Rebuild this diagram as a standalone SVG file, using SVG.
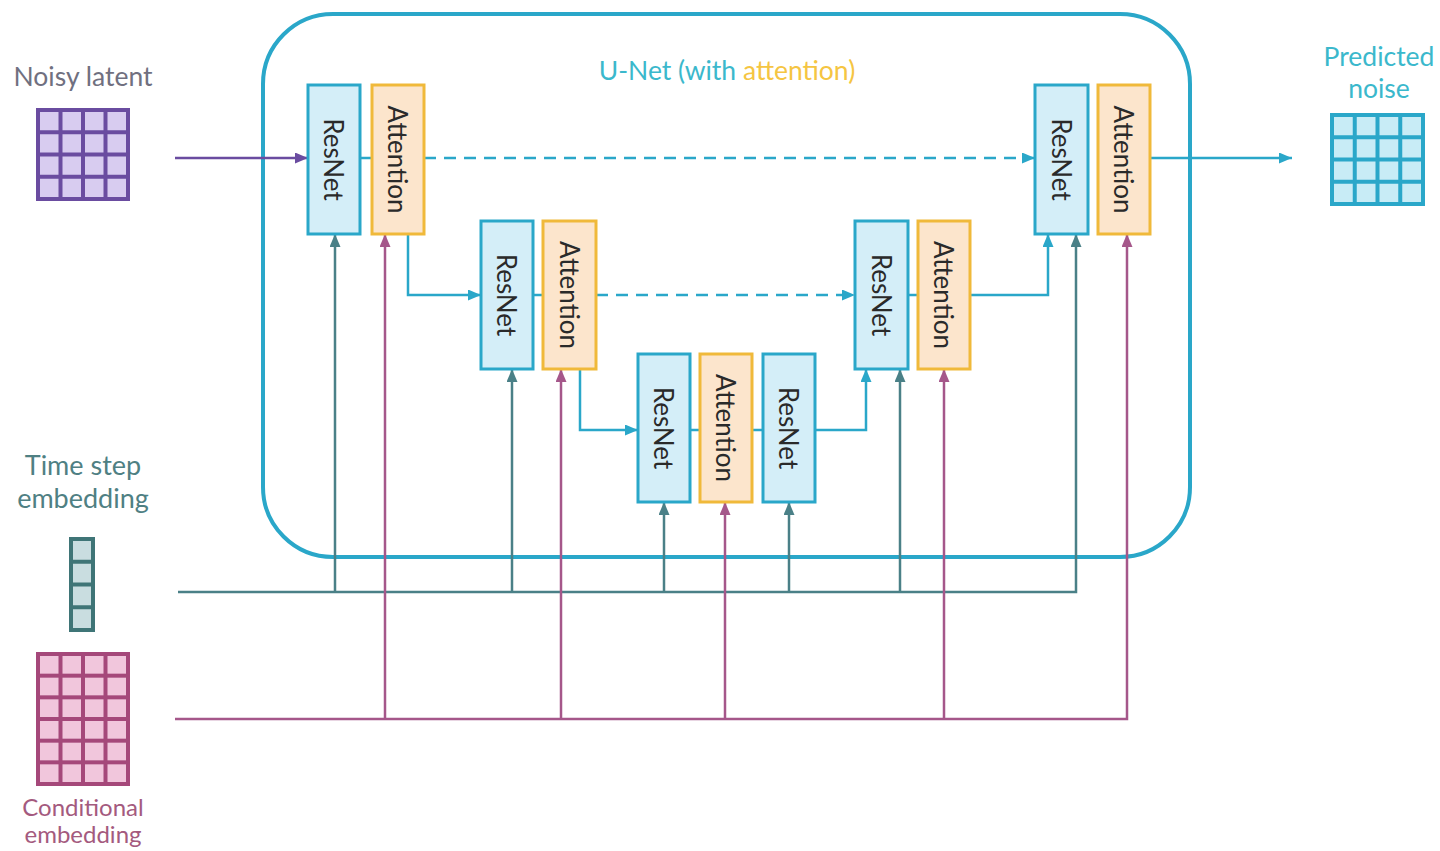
<svg xmlns="http://www.w3.org/2000/svg" width="1440" height="851" viewBox="0 0 1440 851">
<defs>
<style>
.lbl{font-family:Lato,"Open Sans","Liberation Sans",sans-serif;}
.box-r{fill:#D4EEF8;stroke:#2AA7C9;stroke-width:3;}
.box-a{fill:#FCE5CC;stroke:#F0B93A;stroke-width:3;}
.bt{font-family:Lato,"Open Sans","Liberation Sans",sans-serif;font-size:26px;fill:#2a2a2a;text-anchor:middle;dominant-baseline:central;}
.c{fill:none;stroke:#2AA7C9;stroke-width:2.5;}
.d{fill:none;stroke:#2AA7C9;stroke-width:2.5;stroke-dasharray:12 8;}
.t{fill:none;stroke:#4A8087;stroke-width:2.5;}
.m{fill:none;stroke:#A5578A;stroke-width:2.5;}
.p{fill:none;stroke:#6A4CA0;stroke-width:2.5;}
</style>
<marker id="ac" markerUnits="userSpaceOnUse" markerWidth="13" markerHeight="11" refX="13" refY="5.5" orient="auto"><path d="M0,0 L13,5.5 L0,11 z" fill="#2AA7C9"/></marker>
<marker id="at" markerUnits="userSpaceOnUse" markerWidth="13" markerHeight="11" refX="13" refY="5.5" orient="auto"><path d="M0,0 L13,5.5 L0,11 z" fill="#4A8087"/></marker>
<marker id="am" markerUnits="userSpaceOnUse" markerWidth="13" markerHeight="11" refX="13" refY="5.5" orient="auto"><path d="M0,0 L13,5.5 L0,11 z" fill="#A5578A"/></marker>
<marker id="ap" markerUnits="userSpaceOnUse" markerWidth="13" markerHeight="11" refX="13" refY="5.5" orient="auto"><path d="M0,0 L13,5.5 L0,11 z" fill="#6A4CA0"/></marker>
</defs>
<rect width="1440" height="851" fill="#ffffff"/>

<g id="unet">
<rect x="263" y="14" width="927" height="543" rx="70" ry="70" fill="none" stroke="#2AA7C9" stroke-width="4"/>
<text class="lbl" x="727" y="80" font-size="26.5" text-anchor="middle"><tspan fill="#3BB8CC">U-Net (with </tspan><tspan fill="#F5C542">attention)</tspan></text>
</g>

<g id="connectors">
<path class="p" d="M175 158 H308" marker-end="url(#ap)"/>
<path class="c" d="M360 158 H372"/>
<path class="d" d="M424 158 H1035" marker-end="url(#ac)"/>
<path class="c" d="M1150 158 H1292" marker-end="url(#ac)"/>
<path class="c" d="M408 234 V295 H481" marker-end="url(#ac)"/>
<path class="c" d="M533 295 H543"/>
<path class="d" d="M596 295 H855" marker-end="url(#ac)"/>
<path class="c" d="M908 295 H918"/>
<path class="c" d="M580 369 V430 H638" marker-end="url(#ac)"/>
<path class="c" d="M690 430 H700"/>
<path class="c" d="M752 430 H763"/>
<path class="c" d="M815 430 H866 V369" marker-end="url(#ac)"/>
<path class="c" d="M970 295 H1048 V234" marker-end="url(#ac)"/>

<path class="t" d="M178 592 H1076 V234" marker-end="url(#at)"/>
<path class="t" d="M335 592 V234" marker-end="url(#at)"/>
<path class="t" d="M512 592 V369" marker-end="url(#at)"/>
<path class="t" d="M664 592 V502" marker-end="url(#at)"/>
<path class="t" d="M789 592 V502" marker-end="url(#at)"/>
<path class="t" d="M900 592 V369" marker-end="url(#at)"/>

<path class="m" d="M175 719 H1127 V234" marker-end="url(#am)"/>
<path class="m" d="M385 719 V234" marker-end="url(#am)"/>
<path class="m" d="M561 719 V369" marker-end="url(#am)"/>
<path class="m" d="M725 719 V502" marker-end="url(#am)"/>
<path class="m" d="M944 719 V369" marker-end="url(#am)"/>
</g>

<g id="resnet1"><rect class="box-r" x="308" y="85" width="52" height="149"/><text class="bt" transform="translate(334 159.5) rotate(90)">ResNet</text></g>
<g id="attention1"><rect class="box-a" x="372" y="85" width="52" height="149"/><text class="bt" transform="translate(398 159.5) rotate(90)">Attention</text></g>
<g id="resnet2"><rect class="box-r" x="481" y="221" width="52" height="148"/><text class="bt" transform="translate(507 295) rotate(90)">ResNet</text></g>
<g id="attention2"><rect class="box-a" x="543" y="221" width="53" height="148"/><text class="bt" transform="translate(569.5 295) rotate(90)">Attention</text></g>
<g id="resnet3"><rect class="box-r" x="638" y="354" width="52" height="148"/><text class="bt" transform="translate(664 428) rotate(90)">ResNet</text></g>
<g id="attention3"><rect class="box-a" x="700" y="354" width="52" height="148"/><text class="bt" transform="translate(726 428) rotate(90)">Attention</text></g>
<g id="resnet4"><rect class="box-r" x="763" y="354" width="52" height="148"/><text class="bt" transform="translate(789 428) rotate(90)">ResNet</text></g>
<g id="resnet5"><rect class="box-r" x="855" y="221" width="53" height="148"/><text class="bt" transform="translate(881.5 295) rotate(90)">ResNet</text></g>
<g id="attention5"><rect class="box-a" x="918" y="221" width="52" height="148"/><text class="bt" transform="translate(944 295) rotate(90)">Attention</text></g>
<g id="resnet6"><rect class="box-r" x="1035" y="85" width="53" height="149"/><text class="bt" transform="translate(1061.5 159.5) rotate(90)">ResNet</text></g>
<g id="attention6"><rect class="box-a" x="1098" y="85" width="52" height="149"/><text class="bt" transform="translate(1124 159.5) rotate(90)">Attention</text></g>

<g id="noisy-latent">
<text class="lbl" x="83" y="86" font-size="26.5" fill="#707080" text-anchor="middle">Noisy latent</text>
<rect x="36" y="108" width="94" height="93" fill="#6A4CA0"/>
<g fill="#D8CCF0">
<rect x="40" y="112" width="18.5" height="18.25"/><rect x="62.5" y="112" width="18.5" height="18.25"/><rect x="85" y="112" width="18.5" height="18.25"/><rect x="107.5" y="112" width="18.5" height="18.25"/>
<rect x="40" y="134.25" width="18.5" height="18.25"/><rect x="62.5" y="134.25" width="18.5" height="18.25"/><rect x="85" y="134.25" width="18.5" height="18.25"/><rect x="107.5" y="134.25" width="18.5" height="18.25"/>
<rect x="40" y="156.5" width="18.5" height="18.25"/><rect x="62.5" y="156.5" width="18.5" height="18.25"/><rect x="85" y="156.5" width="18.5" height="18.25"/><rect x="107.5" y="156.5" width="18.5" height="18.25"/>
<rect x="40" y="178.75" width="18.5" height="18.25"/><rect x="62.5" y="178.75" width="18.5" height="18.25"/><rect x="85" y="178.75" width="18.5" height="18.25"/><rect x="107.5" y="178.75" width="18.5" height="18.25"/>
</g>
</g>

<g id="predicted-noise">
<text class="lbl" x="1379" y="66" font-size="26.5" fill="#3BB8CC" text-anchor="middle">Predicted</text>
<text class="lbl" x="1379" y="98" font-size="26.5" fill="#3BB8CC" text-anchor="middle">noise</text>
<rect x="1330" y="113" width="95" height="93" fill="#2AA7C9"/>
<g fill="#C8ECF6">
<rect x="1334" y="117" width="18.75" height="18.25"/><rect x="1356.75" y="117" width="18.75" height="18.25"/><rect x="1379.5" y="117" width="18.75" height="18.25"/><rect x="1402.25" y="117" width="18.75" height="18.25"/>
<rect x="1334" y="139.25" width="18.75" height="18.25"/><rect x="1356.75" y="139.25" width="18.75" height="18.25"/><rect x="1379.5" y="139.25" width="18.75" height="18.25"/><rect x="1402.25" y="139.25" width="18.75" height="18.25"/>
<rect x="1334" y="161.5" width="18.75" height="18.25"/><rect x="1356.75" y="161.5" width="18.75" height="18.25"/><rect x="1379.5" y="161.5" width="18.75" height="18.25"/><rect x="1402.25" y="161.5" width="18.75" height="18.25"/>
<rect x="1334" y="183.75" width="18.75" height="18.25"/><rect x="1356.75" y="183.75" width="18.75" height="18.25"/><rect x="1379.5" y="183.75" width="18.75" height="18.25"/><rect x="1402.25" y="183.75" width="18.75" height="18.25"/>
</g>
</g>

<g id="time-step-embedding">
<text class="lbl" x="83" y="475" font-size="27" fill="#4F8083" text-anchor="middle">Time step</text>
<text class="lbl" x="83" y="508" font-size="27" fill="#4F8083" text-anchor="middle">embedding</text>
<rect x="69" y="537" width="26" height="95" fill="#3F7577"/>
<g fill="#C9DDE0">
<rect x="73" y="541" width="18" height="18.75"/><rect x="73" y="563.75" width="18" height="18.75"/><rect x="73" y="586.5" width="18" height="18.75"/><rect x="73" y="609.25" width="18" height="18.75"/>
</g>
</g>

<g id="conditional-embedding">
<rect x="36" y="652" width="94" height="134" fill="#A5487A"/>
<g fill="#F1C6DC">
<rect x="40" y="656" width="18.5" height="17.67"/><rect x="62.5" y="656" width="18.5" height="17.67"/><rect x="85" y="656" width="18.5" height="17.67"/><rect x="107.5" y="656" width="18.5" height="17.67"/>
<rect x="40" y="677.67" width="18.5" height="17.67"/><rect x="62.5" y="677.67" width="18.5" height="17.67"/><rect x="85" y="677.67" width="18.5" height="17.67"/><rect x="107.5" y="677.67" width="18.5" height="17.67"/>
<rect x="40" y="699.33" width="18.5" height="17.67"/><rect x="62.5" y="699.33" width="18.5" height="17.67"/><rect x="85" y="699.33" width="18.5" height="17.67"/><rect x="107.5" y="699.33" width="18.5" height="17.67"/>
<rect x="40" y="721" width="18.5" height="17.67"/><rect x="62.5" y="721" width="18.5" height="17.67"/><rect x="85" y="721" width="18.5" height="17.67"/><rect x="107.5" y="721" width="18.5" height="17.67"/>
<rect x="40" y="742.67" width="18.5" height="17.67"/><rect x="62.5" y="742.67" width="18.5" height="17.67"/><rect x="85" y="742.67" width="18.5" height="17.67"/><rect x="107.5" y="742.67" width="18.5" height="17.67"/>
<rect x="40" y="764.33" width="18.5" height="17.67"/><rect x="62.5" y="764.33" width="18.5" height="17.67"/><rect x="85" y="764.33" width="18.5" height="17.67"/><rect x="107.5" y="764.33" width="18.5" height="17.67"/>
</g>
<text class="lbl" x="83" y="816" font-size="24" fill="#A45A7E" text-anchor="middle">Conditional</text>
<text class="lbl" x="83" y="843" font-size="24" fill="#A45A7E" text-anchor="middle">embedding</text>
</g>
</svg>
